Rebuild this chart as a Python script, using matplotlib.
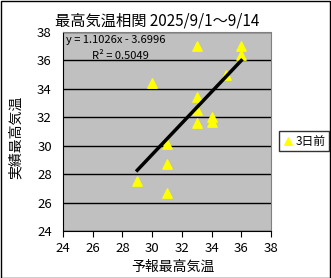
import matplotlib
matplotlib.use('Agg')
import matplotlib.pyplot as plt
import numpy as np

plt.rcParams['font.family'] = ['Noto Sans CJK JP', 'DejaVu Sans']

# 予報最高気温 / 実績最高気温 (3日前)
yohou = [29, 30, 31, 31, 31, 33, 33, 33, 33, 34, 34, 35, 36, 36]
jisseki = [27.5, 34.4, 30.1, 28.7, 26.7, 37.0, 33.4, 32.5, 31.6, 32.0, 31.7, 35.0, 37.0, 36.4]

# 近似直線の係数
slope = 1.1026
intercept = -3.6996
r2 = 0.5049

fig = plt.figure(figsize=(3.31, 2.78), dpi=100)
fig.patch.set_facecolor('white')
ax = fig.add_axes([63/331, 1 - 231/278, 208/331, 199/278])
ax.set_facecolor('#C0C0C0')

ax.scatter(yohou, jisseki, marker='^', s=45, color='#FFFF00', zorder=3, label='3日前')

xs = np.array([min(yohou), max(yohou)])
ax.plot(xs, slope * xs + intercept, color='black', lw=2.5, zorder=4)

ax.set_xlim(24, 38)
ax.set_ylim(24, 38)
ax.set_xticks(range(24, 39, 2))
ax.set_yticks(range(24, 39, 2))
ax.grid(axis='y', color='black', lw=1)
ax.set_axisbelow(True)
ax.tick_params(axis='x', direction='out', length=4, labelsize=9.5, pad=4)
ax.tick_params(axis='y', length=0, labelsize=9.5, pad=8)
for s in ['top', 'right']:
    ax.spines[s].set_color('#808080')
    ax.spines[s].set_linestyle((0, (1, 1)))
for s in ['left', 'bottom']:
    ax.spines[s].set_color('black')

ax.text(0.015, 0.985, 'y = 1.1026x - 3.6996', transform=ax.transAxes, fontsize=8,
        va='top', ha='left')
ax.text(0.14, 0.905, f'R² = {r2:.4f}', transform=ax.transAxes, fontsize=8,
        va='top', ha='left')

fig.text(157/331, 1 - 21/278, '最高気温相関 2025/9/1～9/14', ha='center', va='center', fontsize=11)
fig.text(173/331, 1 - 267/278, '予報最高気温', ha='center', va='center', fontsize=10)
fig.text(16/331, 1 - 137/278, '実績最高気温', ha='center', va='center', fontsize=10, rotation=90)

leg = fig.legend(loc='center left', bbox_to_anchor=(273/331, 1 - 141/278), fontsize=8.5,
                 frameon=True, fancybox=False, edgecolor='black', handletextpad=0.1,
                 handlelength=1.0, borderpad=0.3, markerscale=0.8)
leg.get_frame().set_linewidth(1)

fig.add_artist(plt.Rectangle((0.5/331, 0.5/278), 1 - 1.5/331, 1 - 1.5/278, transform=fig.transFigure,
                             fill=False, edgecolor='black', lw=1))

fig.savefig('out.png', dpi=100)
